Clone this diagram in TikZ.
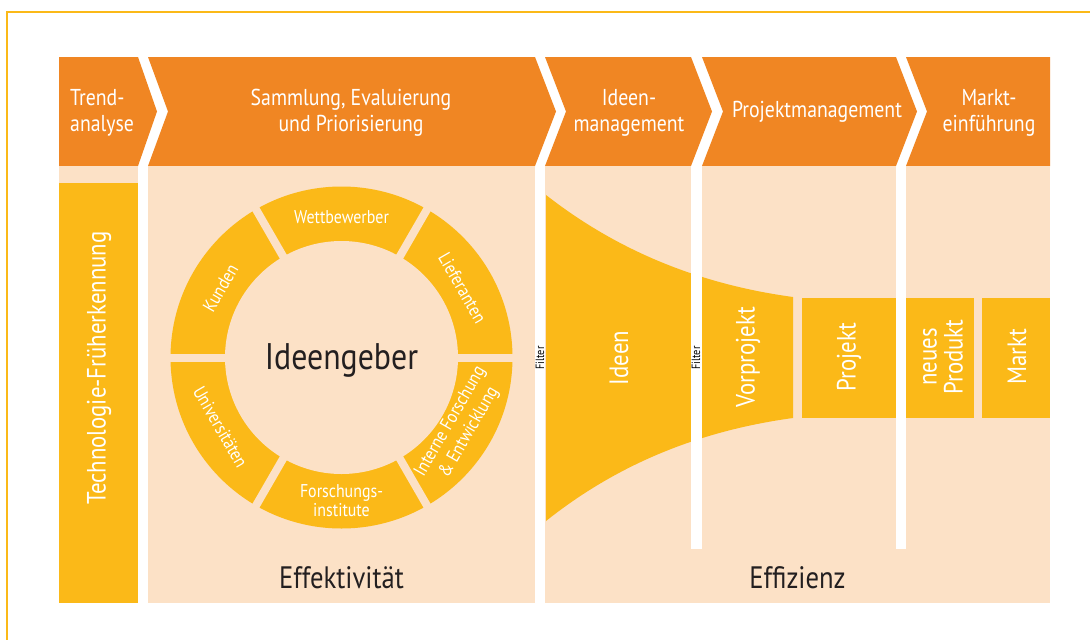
\documentclass[tikz,border=0pt]{standalone}
\usepackage{fontspec}
\setmainfont[FakeStretch=0.86]{PT Sans}
\definecolor{hdr}{RGB}{240,134,35}
\definecolor{pale}{RGB}{252,225,198}
\definecolor{gold}{RGB}{251,185,24}
\definecolor{ink}{RGB}{35,31,32}
\tikzset{
  hdrtext/.style={text=white, inner sep=0pt, align=center, font=\fontsize{23}{26}\selectfont},
  segtext/.style={text=white, inner sep=0pt, align=center, font=\fontsize{18.5}{19}\selectfont},
  boxtext/.style={text=white, inner sep=0pt, align=center, rotate=90, font=\fontsize{26.5}{26}\selectfont},
  bigtext/.style={text=ink, inner sep=0pt, font=\fontsize{31}{36}\selectfont},
  filtertext/.style={text=black, inner sep=0pt, rotate=90, font=\fontsize{12}{12}\selectfont},
}
\begin{document}
\begin{tikzpicture}[x=1pt,y=-1pt]
\useasboundingbox (0,0) rectangle (1090,640);
\fill[white] (0,0) rectangle (1090,640);
\draw[gold, line width=2pt] (7,640) -- (7,12) -- (1090,12);

% header chevrons
\fill[hdr] (59,57) -- (138,57) -- (157,111.5) -- (138,166) -- (59,166) -- cycle;
\fill[hdr] (148,57) -- (535,57) -- (556,111.5) -- (535,166) -- (148,166) -- (168,111.5) -- cycle;
\fill[hdr] (545,57) -- (691,57) -- (712,111.5) -- (691,166) -- (545,166) -- (566,111.5) -- cycle;
\fill[hdr] (702,57) -- (896,57) -- (917,111.5) -- (896,166) -- (702,166) -- (723,111.5) -- cycle;
\fill[hdr] (906,57) -- (1050,57) -- (1050,166) -- (906,166) -- (927,111.5) -- cycle;

\node[hdrtext, anchor=west, align=left] (trend) at (70,113) {Trend-\\analyse};
\node[hdrtext] (samml) at (351,113) {Sammlung, Evaluierung\\und Priorisierung};
\node[hdrtext] (ideenm) at (629,113) {Ideen-\\management};
\node[hdrtext] (projm) at (817,112) {Projektmanagement};
\node[hdrtext] (markte) at (989,113) {Markt-\\einführung};

% body panels
\fill[pale] (59,166) rectangle (138,603);
\fill[gold] (59,183) rectangle (138,603);
\fill[pale] (148,166) rectangle (535,603);
\fill[pale] (545,166) rectangle (1050,603);

\node[boxtext, font=\fontsize{26.5}{26}\selectfont] (tech) at (99,368) {Technologie-Früherkennung};

% ring of idea sources
\fill[gold] (341.5,357.5) circle[radius=171];
\fill[pale] (341.5,357.5) circle[radius=116.5];
\foreach \a in {0,60,...,300}
  \draw[pale, line width=8pt] (341.5,357.5) ++(\a:110) -- ++(\a:70);

\node[bigtext, font=\fontsize{37}{44}\selectfont] (geber) at (341.5,360) {Ideengeber};
\node[segtext] (wett) at (341.5,217) {Wettbewerber};
\node[segtext, rotate=60] (kunden) at (220.5,288) {Kunden};
\node[segtext, rotate=-60] (liefer) at (462.5,288) {Lieferanten};
\node[segtext, rotate=60, font=\fontsize{18.5}{21.5}\selectfont] (intern) at (460,427) {Interne Forschung\\\& Entwicklung};
\node[segtext, rotate=-60] (univ) at (220.5,427) {Universitäten};
\node[segtext] (inst) at (341.5,501) {Forschungs-\\institute};

% funnel
\fill[gold] (546,195) .. controls (610,245) and (690,283) .. (793,297)
  -- (793,418) .. controls (690,432) and (610,470) .. (546,521) -- cycle;
\fill[white] (691,166) rectangle (702,549);
\fill[white] (896,166) rectangle (906,549);

\fill[gold] (802,298) rectangle (896,418);
\fill[gold] (906,298) rectangle (974,418);
\fill[gold] (982,298) rectangle (1050,418);

\node[boxtext] (ideen) at (619,358) {Ideen};
\node[boxtext] (vorp) at (748,357) {Vorprojekt};
\node[boxtext] (proj) at (849,357) {Projekt};
\node[boxtext] (neu) at (943,357) {neues\\Produkt};
\node[boxtext] (markt) at (1017,357) {Markt};

\node[filtertext] (f1) at (540,358) {Filter};
\node[filtertext] (f2) at (696,358) {Filter};

\node[bigtext] (eff1) at (341.5,578) {Effektivität};
\node[bigtext] (eff2) at (797.5,578) {Effizienz};
\end{tikzpicture}
\end{document}
